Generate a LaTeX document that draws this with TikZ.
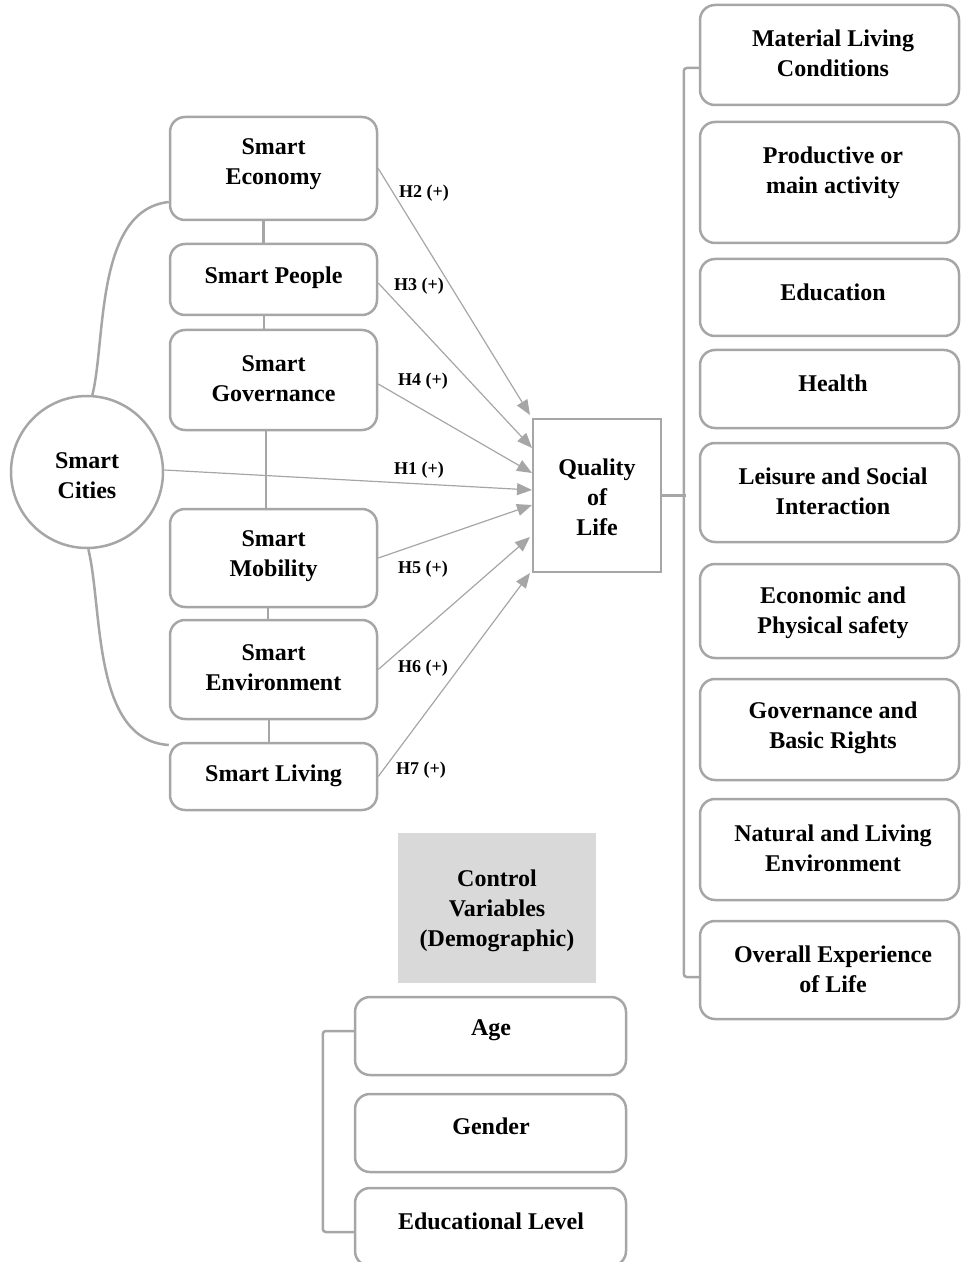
\documentclass[tikz,border=0pt]{standalone}
\usepackage{fontspec}
\setmainfont{Liberation Serif}
\usetikzlibrary{arrows.meta}
\definecolor{lg}{HTML}{A6A6A6}
\definecolor{cfill}{HTML}{D9D9D9}
\begin{document}
\begin{tikzpicture}[x=0.5pt,y=-0.5pt,
  box/.style={draw=lg, line width=1.25pt, rounded corners=7.5pt, inner sep=0pt},
  lbox/.style={box, minimum width=103.5pt},
  rbox/.style={box, minimum width=129.5pt},
  bbox/.style={box, minimum width=135.5pt, minimum height=39pt},
  txt/.style={font=\fontsize{12}{15}\selectfont\bfseries, align=center, inner sep=0pt, yshift=-1.25pt},
  hl/.style={font=\fontsize{9}{11}\selectfont\bfseries, inner sep=0pt, yshift=-0.75pt},
  arr/.style={draw=lg, line width=0.6pt, -{Triangle[length=7.5pt,width=6pt]}},
  conn/.style={draw=lg, line width=1.25pt}]
\useasboundingbox (0,0) rectangle (960,1262);

% left boxes
\node[lbox, minimum height=51.5pt] (eco) at (273.5,168.5) {};
\node[lbox, minimum height=35.5pt] (peo) at (273.5,279.5) {};
\node[lbox, minimum height=50pt]   (gov) at (273.5,380) {};
\node[lbox, minimum height=49pt]   (mob) at (273.5,558) {};
\node[lbox, minimum height=49.5pt] (env) at (273.5,669.5) {};
\node[lbox, minimum height=33.5pt] (liv) at (273.5,776.5) {};
\node[txt] (ecot) at (273.5,162) {Smart\\Economy};
\node[txt] (peot) at (273.5,275) {Smart People};
\node[txt] (govt) at (273.5,376) {Smart\\Governance};
\node[txt] (mobt) at (273.5,554) {Smart\\Mobility};
\node[txt] (envt) at (273.5,665) {Smart\\Environment};
\node[txt] (livt) at (273.5,773) {Smart Living};

% vertical connectors
\draw[conn] ([xshift=-5pt]eco.south) -- ([xshift=-5pt]peo.north);
\draw[conn] ([xshift=-4.75pt]peo.south) -- ([xshift=-4.75pt]gov.north);
\draw[conn] ([xshift=-3.75pt]gov.south) -- ([xshift=-3.75pt]mob.north);
\draw[conn] ([xshift=-2.75pt]mob.south) -- ([xshift=-2.75pt]env.north);
\draw[conn] ([xshift=-2.25pt]env.south) -- ([xshift=-2.25pt]liv.north);

% smart cities
\node[draw=lg, line width=1.25pt, circle, minimum size=76pt, inner sep=0pt] (cities) at (87,472) {};
\node[txt] (citiest) at (87,473) {Smart\\Cities};
\draw[conn] (cities.86) .. controls (106,340) and (95,210) .. ([yshift=-16.75pt]eco.west);
\draw[conn] (cities.-89) .. controls (103,610) and (92,740) .. ([yshift=15.75pt]liv.west);

% quality of life
\node[draw=lg, line width=1.25pt, minimum width=64pt, minimum height=76.5pt, inner sep=0pt] (qol) at (597,495.5) {};
\node[txt] (qolt) at (597,495) {Quality\\of\\Life};

\coordinate (t2) at (530,415);
\coordinate (t3) at (532,448);
\coordinate (t4) at (532,473);
\coordinate (t1) at (532,490);
\coordinate (t5) at (532,505);
\coordinate (t6) at (530,537);
\coordinate (t7) at (530,573);
\draw[arr] (eco.east) -- (t2);
\draw[arr] ([yshift=-1.75pt]peo.east) -- (t3);
\draw[arr] ([yshift=-2pt]gov.east) -- (t4);
\draw[arr] ([yshift=1pt]cities.east) -- (t1);
\draw[arr] (mob.east) -- (t5);
\draw[arr] (env.east) -- (t6);
\draw[arr] (liv.east) -- (t7);
\node[hl] (h2) at (424,192) {H2 (+)};
\node[hl] (h3) at (419,285) {H3 (+)};
\node[hl] (h4) at (423,380) {H4 (+)};
\node[hl] (h1) at (419,469) {H1 (+)};
\node[hl] (h5) at (423,568) {H5 (+)};
\node[hl] (h6) at (423,667) {H6 (+)};
\node[hl] (h7) at (421,769) {H7 (+)};

% right boxes
\node[rbox, minimum height=50pt]   (r1) at (829.5,55) {};
\node[rbox, minimum height=60.5pt] (r2) at (829.5,182.5) {};
\node[rbox, minimum height=38.5pt] (r3) at (829.5,297.5) {};
\node[rbox, minimum height=39pt]   (r4) at (829.5,389) {};
\node[rbox, minimum height=49.5pt] (r5) at (829.5,492.5) {};
\node[rbox, minimum height=47pt]   (r6) at (829.5,611) {};
\node[rbox, minimum height=50.5pt] (r7) at (829.5,729.5) {};
\node[rbox, minimum height=50.5pt] (r8) at (829.5,849.5) {};
\node[rbox, minimum height=49pt]   (r9) at (829.5,970) {};
\node[txt] (r1t) at (833,51) {Material Living\\Conditions};
\node[txt] (r2t) at (833,170.5) {Productive or\\main activity};
\node[txt] (r3t) at (833,290) {Education};
\node[txt] (r4t) at (833,381) {Health};
\node[txt] (r5t) at (833,488.5) {Leisure and Social\\Interaction};
\node[txt] (r6t) at (833,610) {Economic and\\Physical safety};
\node[txt] (r7t) at (833,725) {Governance and\\Basic Rights};
\node[txt] (r8t) at (833,846) {Natural and Living\\Environment};
\node[txt] (r9t) at (833,967) {Overall Experience\\of Life};

\draw[conn, rounded corners=1.5pt] ([yshift=-6.5pt]r1.west) -- ++(-15,0) |- ([yshift=-3.5pt]r9.west);
\draw[conn] (qol.east) -- ++(24,0);

% control variables
\node[fill=cfill, minimum width=99pt, minimum height=75pt, inner sep=0pt] (ctrl) at (497,908) {};
\node[txt] (ctrlt) at (497,908.5) {Control\\Variables\\(Demographic)};
\node[bbox] (age) at (490.5,1036) {};
\node[bbox] (gen) at (490.5,1133) {};
\node[bbox] (edu) at (490.5,1227) {};
\node[txt] (aget) at (491,1028) {Age};
\node[txt] (gent) at (491,1124) {Gender};
\node[txt] (edut) at (491,1219) {Educational Level};
\draw[conn, rounded corners=1.5pt] ([yshift=2.5pt]age.west) -- ++(-31,0) |- ([yshift=-2.5pt]edu.west);
\end{tikzpicture}
\end{document}
